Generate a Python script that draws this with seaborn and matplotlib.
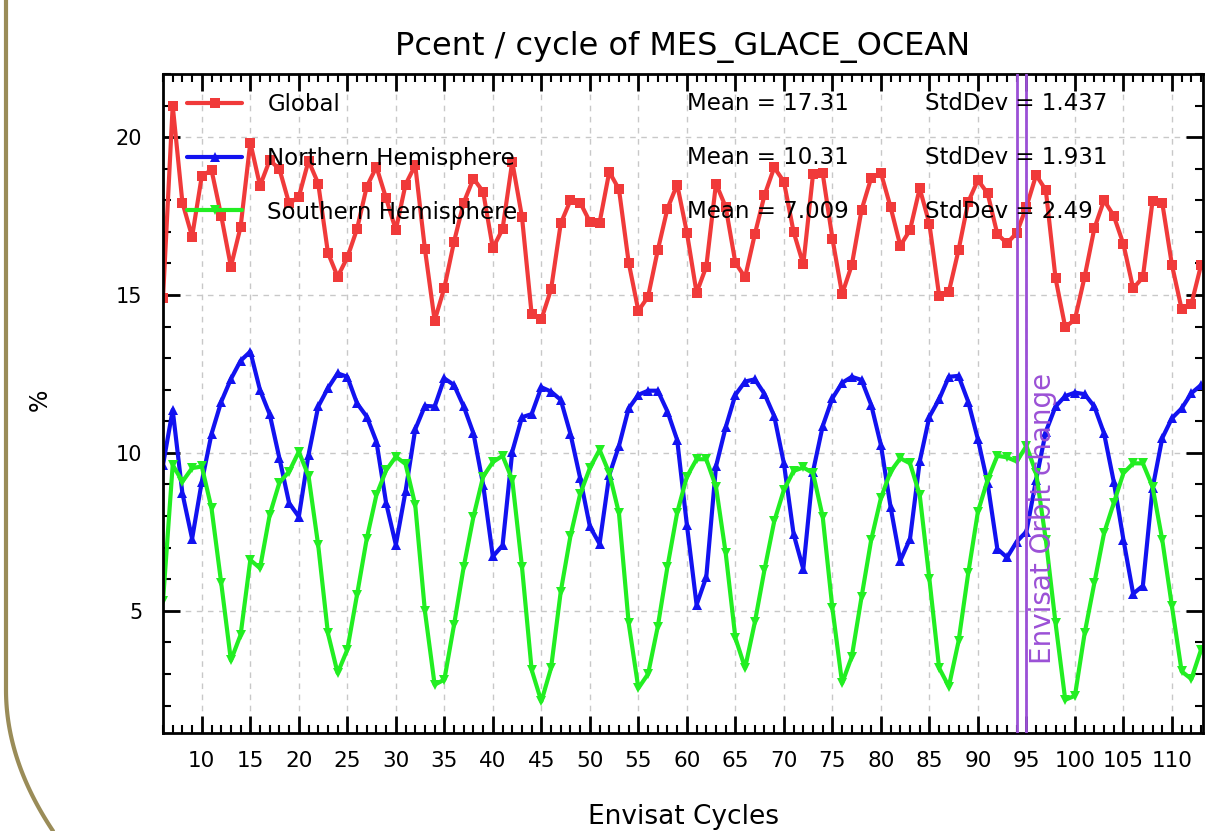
import numpy as np
import pandas as pd
import matplotlib
matplotlib.use("Agg")
import matplotlib.pyplot as plt
from matplotlib.lines import Line2D
from matplotlib.ticker import MultipleLocator
import seaborn as sns

# ---------------- data ----------------
cycles = list(range(6, 114))

global_vals = [
    14.9, 21.0, 17.93, 16.85, 18.77, 18.96, 17.51, 15.9, 17.16, 19.83,
    18.46, 19.27, 18.99, 17.9, 18.11, 19.25, 18.53, 16.34, 15.58, 16.19,
    17.09, 18.43, 19.06, 18.06, 17.06, 18.5, 19.11, 16.45, 14.19, 15.23,
    16.69, 17.93, 18.69, 18.27, 16.48, 17.09, 19.22, 17.48, 14.39, 14.23,
    15.18, 17.27, 18.0, 17.93, 17.32, 17.29, 18.9, 18.35, 16.03, 14.5,
    14.95, 16.42, 17.74, 18.5, 16.98, 15.07, 15.9, 18.53, 17.79, 16.02,
    15.56, 16.92, 18.16, 19.04, 18.59, 17.0, 15.97, 18.82, 18.85, 16.79,
    15.03, 15.95, 17.69, 18.71, 18.87, 17.78, 16.56, 17.06, 18.38, 17.25,
    14.98, 15.1, 16.42, 17.95, 18.64, 18.22, 16.93, 16.64, 16.97, 17.79,
    18.8, 18.32, 15.53, 13.98, 14.23, 15.58, 17.11, 18.0, 17.51, 16.61,
    15.21, 15.56, 17.98, 17.92, 15.95, 14.55, 14.71, 15.95,
]

north_vals = [
    9.62, 11.36, 8.72, 7.28, 9.09, 10.6, 11.62, 12.34, 12.92, 13.21,
    11.99, 11.22, 9.83, 8.41, 7.98, 9.94, 11.47, 12.05, 12.52, 12.41,
    11.57, 11.15, 10.36, 8.41, 7.09, 8.78, 10.75, 11.49, 11.47, 12.36,
    12.15, 11.47, 10.62, 8.99, 6.72, 7.07, 10.04, 11.13, 11.23, 12.08,
    11.94, 11.68, 10.6, 9.2, 7.67, 7.12, 9.3, 10.22, 11.41, 11.84,
    11.97, 11.97, 11.31, 10.41, 7.72, 5.19, 6.07, 9.57, 10.81, 11.84,
    12.26, 12.33, 11.87, 11.17, 9.67, 7.43, 6.32, 9.41, 10.85, 11.73,
    12.22, 12.41, 12.31, 11.52, 10.25, 8.28, 6.59, 7.28, 9.73, 11.15,
    11.7, 12.41, 12.44, 11.62, 10.43, 9.04, 6.96, 6.69, 7.19, 7.51,
    9.15, 10.67, 11.47, 11.8, 11.91, 11.86, 11.47, 10.62, 9.09, 7.25,
    5.54, 5.79, 8.88, 10.47, 11.1, 11.41, 11.89, 12.15,
]

south_vals = [
    5.3, 9.62, 9.09, 9.52, 9.57, 8.25, 5.88, 3.43, 4.24, 6.61,
    6.35, 8.04, 9.06, 9.41, 10.04, 9.27, 7.07, 4.29, 3.03, 3.77,
    5.51, 7.28, 8.67, 9.45, 9.88, 9.65, 8.35, 4.98, 2.66, 2.82,
    4.56, 6.4, 7.98, 9.25, 9.71, 9.91, 9.15, 6.4, 3.13, 2.13,
    3.19, 5.61, 7.37, 8.7, 9.52, 10.1, 9.36, 8.09, 4.61, 2.55,
    3.0, 4.5, 6.4, 8.11, 9.25, 9.8, 9.8, 8.93, 6.83, 4.14,
    3.19, 4.63, 6.3, 7.83, 8.83, 9.43, 9.54, 9.36, 7.98, 5.08,
    2.71, 3.55, 5.43, 7.25, 8.57, 9.41, 9.83, 9.67, 8.67, 6.0,
    3.19, 2.6, 4.03, 6.19, 8.14, 9.15, 9.91, 9.86, 9.73, 10.22,
    9.36, 7.25, 4.61, 2.18, 2.31, 4.29, 5.88, 7.46, 8.41, 9.36,
    9.67, 9.67, 8.93, 7.25, 5.14, 3.08, 2.84, 3.77,
]

series_names = ["Global", "Northern Hemisphere", "Southern Hemisphere"]
means = ["17.31", "10.31", "7.009"]
stddevs = ["1.437", "1.931", "2.49"]
orbit_change_cycles = [94, 95]
x_ticks = list(range(10, 115, 5))
y_ticks = [5, 10, 15, 20]

# ---------------- styling ----------------
colors = {"Global": "#f03a3a", "Northern Hemisphere": "#1212f0",
          "Southern Hemisphere": "#22ee22"}
markers = {"Global": "s", "Northern Hemisphere": "^", "Southern Hemisphere": "v"}
purple = "#9b50d6"

df = pd.concat([
    pd.DataFrame({"cycle": cycles, "value": vals, "series": name})
    for name, vals in zip(series_names, [global_vals, north_vals, south_vals])
], ignore_index=True)

sns.set_style("white")
plt.rcParams["font.family"] = ["DejaVu Sans"]
for k in ["text.color", "axes.labelcolor", "xtick.color", "ytick.color"]:
    plt.rcParams[k] = "black"

fig = plt.figure(figsize=(12.16, 8.31), dpi=100)
ax = fig.add_axes([163 / 1216, 1 - 733 / 831, (1203 - 163) / 1216, (733 - 74) / 831])

sns.lineplot(data=df, x="cycle", y="value", hue="series", style="series",
             palette=colors, markers=markers, dashes=False, linewidth=3,
             markersize=7, markeredgewidth=0, ax=ax, legend=False, sort=False)

# orbit change lines
for c in orbit_change_cycles:
    ax.axvline(c, color=purple, lw=2, zorder=5)
ax.text(96.75, 3.3, "Envisat Orbit change", rotation=90, color=purple,
        fontsize=20, ha="center", va="bottom", zorder=6)

ax.set_xlim(6, 113.2)
ax.set_ylim(1.13, 22.0)
ax.xaxis.set_minor_locator(MultipleLocator(1))
ax.yaxis.set_minor_locator(MultipleLocator(1))
ax.set_xticks(x_ticks)
ax.set_yticks(y_ticks)
ax.tick_params(which="both", direction="in", top=True, right=True,
               bottom=True, left=True, color="black")
ax.tick_params(which="major", length=12, width=2, pad=10)
ax.tick_params(which="minor", length=6, width=1.5)
ax.tick_params(axis="x", which="major", labelsize=15.5, pad=13)
ax.tick_params(axis="y", which="major", labelsize=15, pad=15)
ax.grid(True, which="major", ls=(0, (4, 4)), color="#c8c8c8", lw=1)
for sp in ax.spines.values():
    sp.set_linewidth(2)
    sp.set_color("black")

ax.set_title("Pcent / cycle of MES_GLACE_OCEAN", fontsize=23, pad=14)
ax.set_xlabel("Envisat Cycles", fontsize=19)
ax.xaxis.set_label_coords(0.5, (733 - 817) / 659)
ax.xaxis.label.set_va("center")
ax.set_ylabel("%", fontsize=17)
ax.yaxis.set_label_coords((40 - 163) / 1040, (733 - 400) / 659)
ax.yaxis.label.set_va("center")

# legend
handles = [Line2D([0], [0], color=colors[n], lw=3, marker=markers[n], markersize=7,
                  markeredgewidth=0) for n in series_names]
ax.legend(handles, series_names, loc="upper left", bbox_to_anchor=(0.0144, 0.9846),
          frameon=False, fontsize=16.5, handlelength=2.4, handletextpad=1.1,
          labelspacing=1.335, borderaxespad=0)

rows_y = [(733 - 104) / 659, (733 - 158) / 659, (733 - 212) / 659]
for yy, m, s in zip(rows_y, means, stddevs):
    ax.text((687 - 163) / 1040, yy, f"Mean = {m}", transform=ax.transAxes,
            fontsize=16.5, va="center", ha="left", zorder=7)
    ax.text((925 - 163) / 1040, yy, f"StdDev = {s}", transform=ax.transAxes,
            fontsize=16.5, va="center", ha="left", zorder=7)

# decorative left border
t = np.linspace(0, 1, 50)
bx = np.concatenate([[6, 6], 6 + 47 * t ** 2])
by = np.concatenate([[0, 690], 690 + 141 * t])
fig.add_artist(Line2D(bx / 1216, 1 - by / 831, transform=fig.transFigure,
                      color="#9a8c58", lw=3))

fig.savefig("out.png", dpi=100)
